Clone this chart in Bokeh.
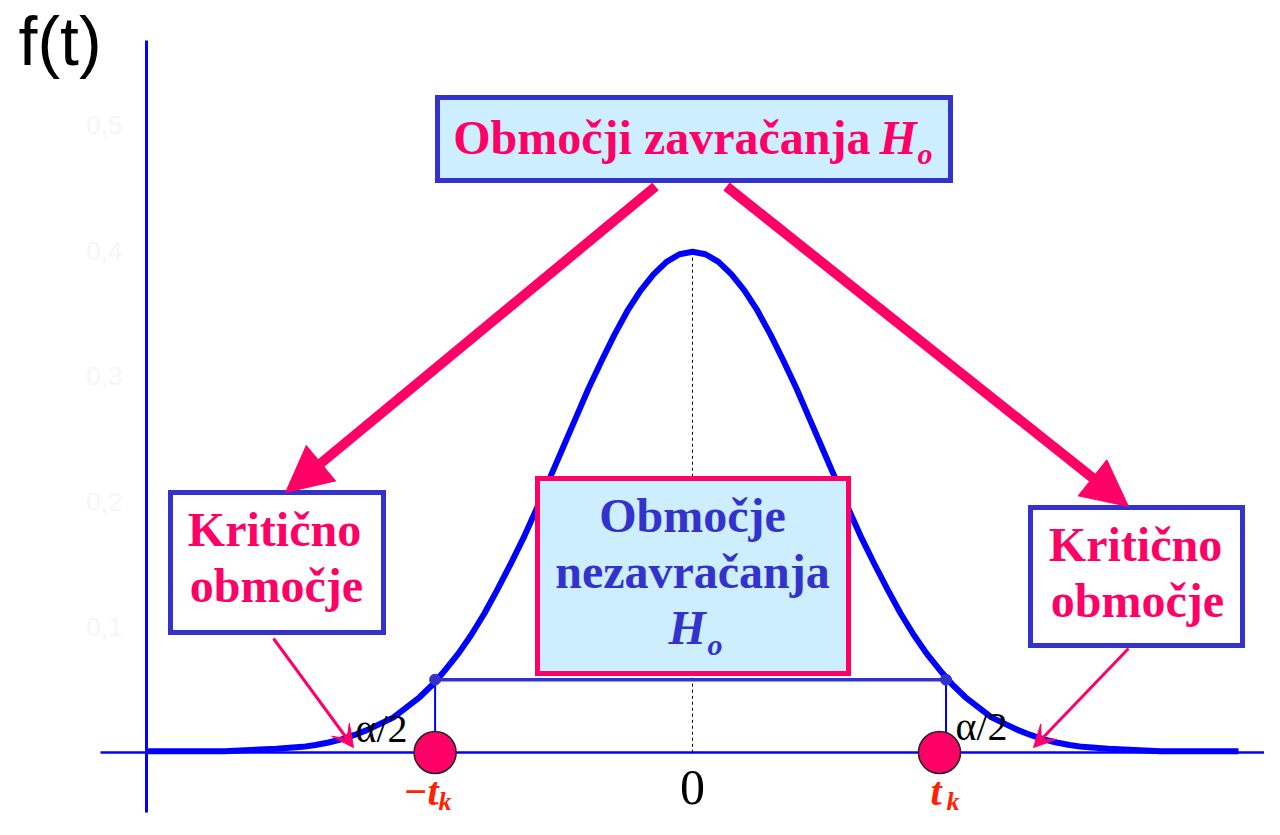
from bokeh.plotting import figure
from bokeh.models import Arrow, NormalHead, VeeHead, Range1d
from bokeh.core.properties import value
from bokeh.embed import file_html
from bokeh.resources import INLINE

# ---------------- data ----------------
t_vals = [-4.2, -4.0, -3.8, -3.6, -3.4, -3.2, -3.0, -2.9, -2.8, -2.7, -2.6, -2.5,
          -2.4, -2.3, -2.2, -2.1, -2.0, -1.9, -1.8, -1.7, -1.6, -1.5, -1.4, -1.3,
          -1.2, -1.1, -1.0, -0.9, -0.8, -0.7, -0.6, -0.5, -0.4, -0.3, -0.2, -0.1,
          0.0,
          0.1, 0.2, 0.3, 0.4, 0.5, 0.6, 0.7, 0.8, 0.9, 1.0, 1.1, 1.2,
          1.3, 1.4, 1.5, 1.6, 1.7, 1.8, 1.9, 2.0, 2.1, 2.2, 2.3, 2.4,
          2.5, 2.6, 2.7, 2.8, 2.9, 3.0, 3.2, 3.4, 3.6, 3.8, 4.0, 4.2]
f_vals = [0.001, 0.001, 0.001, 0.001, 0.002, 0.003, 0.0045, 0.006, 0.008, 0.0105, 0.014, 0.018,
          0.023, 0.028, 0.036, 0.044, 0.054, 0.066, 0.079, 0.094, 0.111, 0.130, 0.150, 0.171,
          0.194, 0.218, 0.242, 0.266, 0.290, 0.312, 0.333, 0.352, 0.368, 0.381, 0.391, 0.397,
          0.399,
          0.397, 0.391, 0.381, 0.368, 0.352, 0.333, 0.312, 0.290, 0.266, 0.242, 0.218, 0.194,
          0.171, 0.150, 0.130, 0.111, 0.094, 0.079, 0.066, 0.054, 0.044, 0.036, 0.028, 0.023,
          0.018, 0.014, 0.0105, 0.008, 0.006, 0.0045, 0.003, 0.002, 0.001, 0.001, 0.001, 0.001]
crit_line_t = [-1.98, 1.95]      # vertical lines at -t_k and t_k
crit_point_t = [-1.98, 1.90]     # red markers on the axis
f_crit = 0.058                   # density level at t_k
tick_vals = [0.1, 0.2, 0.3, 0.4, 0.5]
tick_labels = ["0,1", "0,2", "0,3", "0,4", "0,5"]

# ---------------- layout helpers (reference pixel -> data) ----------------
W, H = 1264, 819
SX, X0 = 130.0, 692.0
SY, Y0 = 1255.0, 752.0


def dx(px):
    return (px - X0) / SX


def dy(py):
    return (Y0 - py) / SY


PINK = "#ff0066"
BLUE = "#0000ff"
DBLUE = "#3333cc"
LIGHT = "#cceeff"
RED = "#ff2200"
SERIF = value("Liberation Serif")

p = figure(width=W, height=H,
           x_range=Range1d(dx(0), dx(W)), y_range=Range1d(dy(H), dy(0)),
           output_backend="svg", toolbar_location=None,
           x_axis_type=None, y_axis_type=None,
           min_border=0, outline_line_color=None)
p.min_border_left = p.min_border_right = p.min_border_top = p.min_border_bottom = 0
p.background_fill_color = "white"
p.border_fill_color = "white"

# axes lines
p.segment(x0=[t_vals[0]], y0=[dy(40)], x1=[t_vals[0]], y1=[dy(812)],
          line_color=BLUE, line_width=3)
p.segment(x0=[dx(100)], y0=[0], x1=[dx(1285)], y1=[0],
          line_color=BLUE, line_width=2.5)

# faint tick labels
p.text(x=[dx(122)] * len(tick_vals), y=tick_vals, text=tick_labels,
       text_align="right", text_baseline="middle", text_color="#f6f6f6",
       text_font=value("Liberation Sans"), text_font_size="26px")

# centre dashed line
p.segment(x0=[0], y0=[max(f_vals)], x1=[0], y1=[0],
          line_color="black", line_width=1, line_dash="3 3")

# curve
p.line(t_vals, f_vals, line_color=BLUE, line_width=6, line_join="round")

# critical verticals + horizontal level
p.segment(x0=crit_line_t, y0=[f_crit] * 2, x1=crit_line_t, y1=[0, 0],
          line_color=BLUE, line_width=2)
p.segment(x0=[crit_line_t[0]], y0=[f_crit], x1=[crit_line_t[1]], y1=[f_crit],
          line_color=DBLUE, line_width=3.5)
p.scatter(crit_line_t, [f_crit] * 2, size=11, fill_color=DBLUE, line_color=DBLUE)

# boxes
p.quad(left=[dx(437)], right=[dx(950)], top=[dy(97)], bottom=[dy(180)],
       fill_color=LIGHT, line_color=DBLUE, line_width=5, line_join="miter")
p.quad(left=[dx(537)], right=[dx(848)], top=[dy(478)], bottom=[dy(673)],
       fill_color=LIGHT, line_color=PINK, line_width=5, line_join="miter")
p.quad(left=[dx(170), dx(1030)], right=[dx(383), dx(1242)],
       top=[dy(492), dy(507)], bottom=[dy(632), dy(645)],
       fill_color="white", line_color=DBLUE, line_width=5, line_join="miter")

# red critical markers
p.scatter(crit_point_t, [0, 0], size=42, fill_color=PINK, line_color="#222222",
          line_width=1.5)

SHIFT = 0.38  # svg text sits this fraction of the font size below its anchor


def txt(x, y, s, size, color, align="center", style="bold", font=SERIF):
    p.text(x=[dx(x)], y=[dy(y - SHIFT * size)], text=[s], text_align=align,
           text_baseline="alphabetic", text_color=color, text_font=font,
           text_font_size=f"{size}px", text_font_style=style)


# top box text
txt(870, 155, "Območji zavračanja", 48, PINK, align="right")
txt(879, 155, "H", 48, PINK, align="left", style="bold italic")
txt(917, 164, "o", 30, PINK, align="left", style="bold italic")

# centre box text
txt(692, 533, "Območje", 48, DBLUE)
txt(692, 589, "nezavračanja", 48, DBLUE)
txt(668, 645, "H", 48, DBLUE, align="left", style="bold italic")
txt(707, 655, "o", 30, DBLUE, align="left", style="bold italic")

# critical region boxes
txt(274, 547, "Kritično", 48, PINK)
txt(276, 603, "območje", 48, PINK)
txt(1135, 562, "Kritično", 48, PINK)
txt(1137, 618, "območje", 48, PINK)

# alpha/2
txt(355, 743, "α/2", 40, "black", align="left", style="normal")
txt(955, 741, "α/2", 40, "black", align="left", style="normal")

# axis labels (kept inside the 819px canvas)
txt(692, 806, "0", 50, "black", style="normal")
txt(438, 806, "−t", 40, RED, align="right", style="bold italic")
txt(438, 811, "k", 26, RED, align="left", style="bold italic")
txt(930, 806, "t", 40, RED, align="left", style="bold italic")
txt(946, 811, "k", 26, RED, align="left", style="bold italic")
txt(18, 66, "f(t)", 68, "black", align="left", style="normal",
    font=value("Liberation Sans"))

# arrows
p.add_layout(Arrow(x_start=dx(655), y_start=dy(186), x_end=dx(285), y_end=dy(492),
                   line_color=PINK, line_width=10,
                   end=NormalHead(size=46, fill_color=PINK, line_color=PINK)))
p.add_layout(Arrow(x_start=dx(726), y_start=dy(186), x_end=dx(1128), y_end=dy(506),
                   line_color=PINK, line_width=10,
                   end=NormalHead(size=46, fill_color=PINK, line_color=PINK)))
p.add_layout(Arrow(x_start=dx(273), y_start=dy(638), x_end=dx(353), y_end=dy(747),
                   line_color=PINK, line_width=3,
                   end=VeeHead(size=22, fill_color=PINK, line_color=PINK)))
p.add_layout(Arrow(x_start=dx(1128), y_start=dy(648), x_end=dx(1033), y_end=dy(747),
                   line_color=PINK, line_width=3,
                   end=VeeHead(size=22, fill_color=PINK, line_color=PINK)))

open("out.html", "w").write(file_html(p, INLINE))
